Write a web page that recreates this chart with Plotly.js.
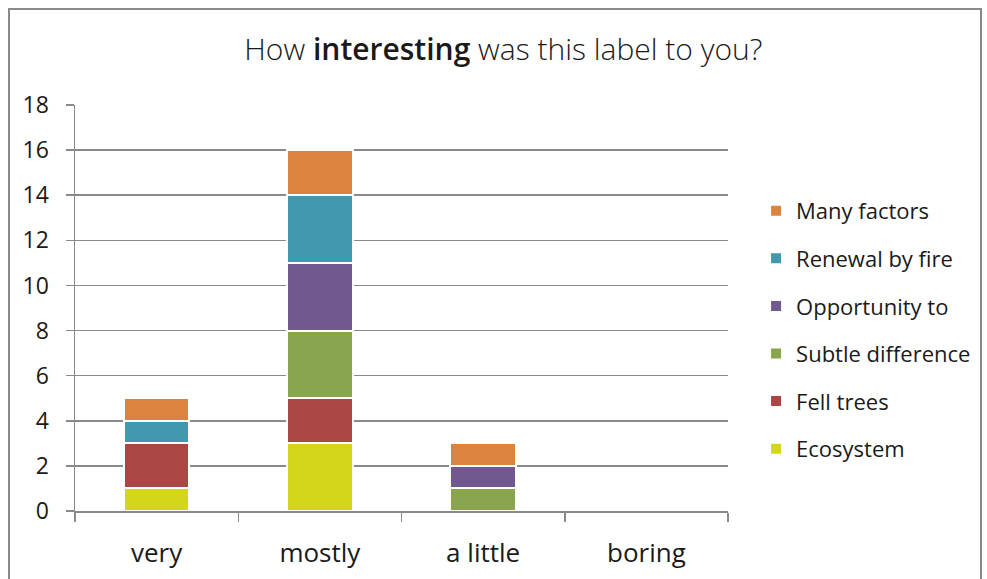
<!DOCTYPE html>
<html>
<head>
<meta charset="utf-8">
<script src="https://cdn.plot.ly/plotly-3.0.1.min.js"></script>
<style>
html,body{margin:0;padding:0;background:#fff;overflow:hidden;}
#chart{position:absolute;left:0;top:0;width:987px;height:579px;}
#frame{position:absolute;left:8px;top:8px;width:970px;height:620px;border:2px solid #8a8a8a;pointer-events:none;z-index:10;}
</style>
</head>
<body>
<div id="chart"></div>
<div id="frame"></div>
<script>
const categories = ["very", "mostly", "a little", "boring"];
const seriesNames = ["Ecosystem", "Fell trees", "Subtle difference", "Opportunity to", "Renewal by fire", "Many factors"];
const ecosystem = [1, 3, 0, 0];
const fellTrees = [2, 2, 0, 0];
const subtleDifference = [0, 3, 1, 0];
const opportunityTo = [0, 3, 1, 0];
const renewalByFire = [1, 3, 0, 0];
const manyFactors = [1, 2, 1, 0];
const seriesValues = [ecosystem, fellTrees, subtleDifference, opportunityTo, renewalByFire, manyFactors];
const colors = ["#d4d61a", "#aa4643", "#89a54e", "#71588f", "#4198af", "#db843d"];
const yTicks = [0, 2, 4, 6, 8, 10, 12, 14, 16, 18];

const traces = seriesNames.map((name, i) => ({
  type: "bar",
  name: name,
  x: categories,
  y: seriesValues[i],
  legendgroup: "g" + i,
  legendrank: seriesNames.length - i,
  marker: {color: colors[i], line: {color: "#ffffff", width: 2}},
  hoverinfo: "x+y+name"
}));

const layout = {
  width: 987,
  height: 579,
  barmode: "stack",
  bargap: 0.6,
  paper_bgcolor: "rgba(0,0,0,0)",
  plot_bgcolor: "rgba(0,0,0,0)",
  margin: {l: 75, r: 259, t: 105, b: 68, autoexpand: false},
  font: {family: "Open Sans, sans-serif", color: "#1a1a1a"},
  title: {
    text: "How <span style=\"font-weight:600\">interesting</span> was this label to you?",
    font: {size: 30, family: "Open Sans, sans-serif", weight: 300, color: "#1a1a1a"},
    xref: "container", x: 0.51, xanchor: "center",
    yref: "container", y: 0.915, yanchor: "middle"
  },
  xaxis: {
    type: "category",
    showline: true, linecolor: "#8a8a8a", linewidth: 1.5,
    ticks: "outside", tickson: "boundaries", ticklen: 9, tickcolor: "#8a8a8a", tickwidth: 1.5,
    tickfont: {size: 26, color: "#1a1a1a"},
    showgrid: false, zeroline: false,
    ticklabelstandoff: 18
  },
  yaxis: {
    range: [0, 18],
    tickvals: yTicks,
    ticktext: yTicks.map(String),
    showline: true, linecolor: "#8a8a8a", linewidth: 1.5,
    ticks: "outside", ticklen: 8, tickcolor: "#8a8a8a", tickwidth: 1.5,
    showgrid: true, gridcolor: "#8a8a8a", gridwidth: 1.5,
    zeroline: false,
    tickfont: {size: 23, color: "#1a1a1a"},
    ticklabelstandoff: 12
  },
  legend: {
    x: 1.043, xanchor: "left",
    y: 0.446, yanchor: "middle",
    traceorder: "grouped",
    tracegroupgap: 16,
    font: {size: 22, color: "#1a1a1a"},
    itemwidth: 30,
    bgcolor: "rgba(0,0,0,0)"
  },
  showlegend: true
};

Plotly.newPlot("chart", traces, layout, {displayModeBar: false, staticPlot: true});
</script>
</body>
</html>
